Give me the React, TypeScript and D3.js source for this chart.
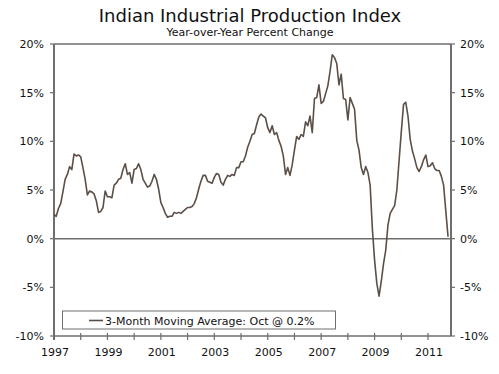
import React from "react";
import * as d3 from "d3";

const title = "Indian Industrial Production Index";
const subtitle = "Year-over-Year Percent Change";
const legendLabel = "3-Month Moving Average: Oct @ 0.2%";
const startYear = 1997;
const yTicks = [-10, -5, 0, 5, 10, 15, 20];
const yearTicks = d3.range(1997, 2012);
const yearLabels = [1997, 1999, 2001, 2003, 2005, 2007, 2009, 2011];

const v1997 = [2.5, 2.3, 3.1, 3.6, 4.8, 6.1, 6.6, 7.4, 7.1, 8.7, 8.5, 8.6];
const v1998 = [8.4, 7.3, 6.1, 4.5, 4.9, 4.8, 4.6, 3.9, 2.7, 2.8, 3.2, 4.9];
const v1999 = [4.3, 4.3, 4.2, 5.5, 5.7, 6.1, 6.2, 7.1, 7.7, 6.6, 6.8, 5.7];
const v2000 = [7.1, 7.2, 7.7, 7.1, 6.1, 5.7, 5.3, 5.4, 5.9, 6.6, 6.1, 5.1];
const v2001 = [3.7, 3.2, 2.6, 2.2, 2.3, 2.3, 2.7, 2.6, 2.7, 2.6, 2.8, 3.0];
const v2002 = [3.2, 3.2, 3.3, 3.6, 4.2, 5.1, 5.9, 6.5, 6.5, 5.9, 5.8, 5.7];
const v2003 = [6.3, 6.7, 6.6, 5.8, 5.5, 6.1, 6.5, 6.4, 6.6, 6.5, 7.3, 7.3];
const v2004 = [7.9, 7.9, 8.5, 9.4, 10.0, 10.7, 10.8, 11.7, 12.5, 12.8, 12.6, 12.4];
const v2005 = [11.4, 10.9, 11.6, 10.7, 10.9, 10.1, 9.5, 8.5, 6.6, 7.3, 6.5, 7.6];
const v2006 = [9.1, 10.5, 10.2, 10.7, 10.5, 12.0, 11.6, 12.6, 10.9, 14.4, 14.5, 15.8];
const v2007 = [13.9, 14.1, 14.9, 15.7, 17.2, 18.9, 18.6, 18.0, 15.8, 16.9, 14.4, 14.3];
const v2008 = [12.2, 14.5, 13.9, 13.3, 10.1, 9.1, 7.3, 6.6, 7.4, 6.8, 5.5, 1.0];
const v2009 = [-2.2, -4.6, -5.9, -4.4, -2.6, -1.2, 1.4, 2.6, 3.0, 3.4, 5.0, 8.0];
const v2010 = [11.0, 13.8, 14.0, 12.6, 10.2, 9.0, 8.2, 7.3, 6.9, 7.4, 8.1, 8.6];
const v2011 = [7.4, 7.5, 7.8, 7.2, 7.0, 7.0, 6.4, 5.5, 2.8, 0.2];

const series = [
  ...v1997, ...v1998, ...v1999, ...v2000, ...v2001, ...v2002, ...v2003, ...v2004,
  ...v2005, ...v2006, ...v2007, ...v2008, ...v2009, ...v2010, ...v2011,
];

const W = 499;
const H = 374;
const FONT = "'DejaVu Sans', Verdana, sans-serif";
const LINE = "#5b4f46";
const AXIS = "#6e6e6e";

export default function App() {
  const x = d3.scaleLinear().domain([1997, 2011.86]).range([54, 451]);
  const y = d3.scaleLinear().domain([-10, 20]).range([336, 44]);
  const line = d3
    .line<number>()
    .x((_, i) => x(startYear + i / 12))
    .y((d) => y(d));

  const x0 = x.range()[0];
  const x1 = x.range()[1];
  const yTop = y(20);
  const yBot = y(-10);

  return (
    <svg
      width={W}
      height={H}
      style={{ position: "absolute", left: 0, top: 0, background: "#fff" }}
      fontFamily={FONT}
    >
      <text x={250} y={22} textAnchor="middle" fontSize={18} fill="#111">
        {title}
      </text>
      <text x={250} y={36} textAnchor="middle" fontSize={11} fill="#111">
        {subtitle}
      </text>

      {/* zero line */}
      <line x1={x0} x2={x1} y1={y(0)} y2={y(0)} stroke={AXIS} strokeWidth={1.5} />

      {/* frame */}
      <line x1={x0} x2={x1} y1={yTop} y2={yTop} stroke={AXIS} strokeWidth={1.5} />
      <line x1={x0} x2={x1} y1={yBot} y2={yBot} stroke={AXIS} strokeWidth={1.5} />
      <line x1={x0} x2={x0} y1={yTop} y2={yBot + 4} stroke={AXIS} strokeWidth={2} />
      <line x1={x1} x2={x1} y1={yTop} y2={yBot} stroke={AXIS} strokeWidth={2} />

      {/* y ticks and labels */}
      {yTicks.map((t) => (
        <g key={t}>
          <line x1={x0 - 4} x2={x0} y1={y(t)} y2={y(t)} stroke={AXIS} strokeWidth={1.2} />
          <line x1={x1} x2={x1 + 4} y1={y(t)} y2={y(t)} stroke={AXIS} strokeWidth={1.2} />
          <text x={44} y={y(t) + 4} textAnchor="end" fontSize={11} fill="#111">
            {`${t}%`}
          </text>
          <text x={460} y={y(t) + 4} textAnchor="start" fontSize={11} fill="#111">
            {`${t}%`}
          </text>
        </g>
      ))}

      {/* x ticks */}
      {yearTicks.map((yr) => (
        <line
          key={yr}
          x1={x(yr)}
          x2={x(yr)}
          y1={yBot - 3}
          y2={yBot + 4}
          stroke={AXIS}
          strokeWidth={1.2}
        />
      ))}
      {yearLabels.map((yr) => (
        <text key={yr} x={x(yr) + 1} y={356} textAnchor="middle" fontSize={11} fill="#111">
          {yr}
        </text>
      ))}

      {/* series */}
      <path d={line(series) || ""} fill="none" stroke={LINE} strokeWidth={1.6} strokeLinejoin="round" />

      {/* legend */}
      <rect x={62.5} y={311} width={273} height={18} fill="#fff" stroke={AXIS} strokeWidth={1} />
      <line x1={89} x2={103} y1={320.5} y2={320.5} stroke={LINE} strokeWidth={1.6} />
      <text x={105} y={324.5} fontSize={11} fill="#111">
        {legendLabel}
      </text>
    </svg>
  );
}
